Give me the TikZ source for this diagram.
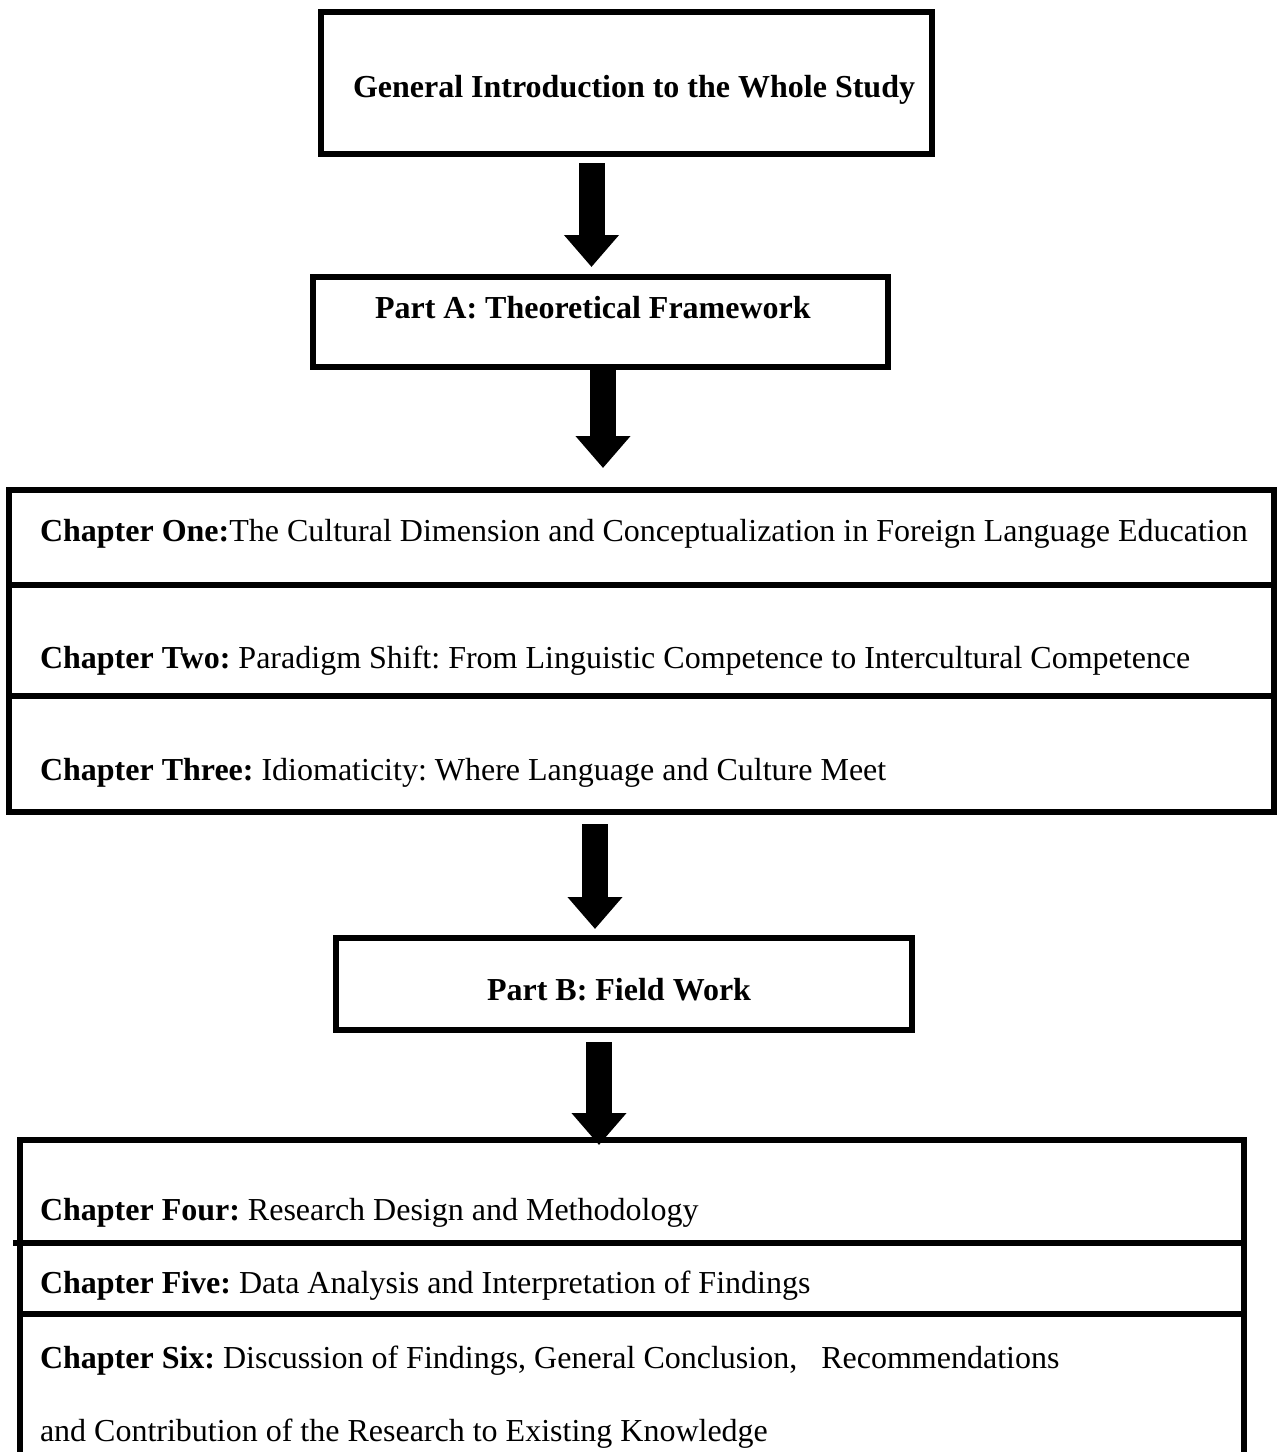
\documentclass[tikz,border=0pt]{standalone}
\usepackage{fontspec}
\setmainfont{Liberation Serif}
\usetikzlibrary{arrows.meta}
\frenchspacing
\begin{document}
\begin{tikzpicture}[x=1pt,y=-1pt,
  frame/.style={draw=black, line width=6pt, inner sep=0pt, outer sep=0pt, line join=miter},
  lbl/.style={anchor=base west, inner sep=0pt, outer sep=0pt, font=\fontsize{32}{38}\selectfont},
  blockarrow/.style={line width=26pt, -{Triangle[width=53pt,length=32pt]}},
  rulel/.style={line width=6pt}]
\useasboundingbox[fill=white] (0,0) rectangle (1277,1452);
% boxes
\node[frame, minimum width=611pt, minimum height=142.5pt] (intro) at (626.5,83) {};
\node[frame, minimum width=575pt, minimum height=90pt] (partA) at (600.5,322) {};
\node[frame, minimum width=1265pt, minimum height=321.5pt] (chA) at (641.5,650.75) {};
\node[frame, minimum width=576pt, minimum height=92pt] (partB) at (624,984) {};
\node[frame, minimum width=1224.5pt, minimum height=340pt] (chB) at (631.75,1310) {};
% dividers
\draw[rulel] (9,585) -- (1274,585);
\draw[rulel] (9,696) -- (1274,696);
\draw[rulel] (13,1243) -- (1244,1243);
\draw[rulel] (19.5,1314) -- (1244,1314);
% texts
\node[lbl] (tintro) at (353,97) {\textbf{General Introduction to the Whole Study}};
\node[lbl] (tpartA) at (375,318) {\textbf{Part A: Theoretical Framework}};
\node[lbl] (tone) at (40,541) {\textbf{Chapter One:}The Cultural Dimension and Conceptualization in Foreign Language Education};
\node[lbl] (ttwo) at (40,668) {\textbf{Chapter Two:} Paradigm Shift: From Linguistic Competence to Intercultural Competence};
\node[lbl] (tthree) at (40,780) {\textbf{Chapter Three:} Idiomaticity: Where Language and Culture Meet};
\node[lbl] (tpartB) at (487,1000) {\textbf{Part B: Field Work}};
\node[lbl] (tfour) at (40,1220) {\textbf{Chapter Four:} Research Design and Methodology};
\node[lbl] (tfive) at (40,1293) {\textbf{Chapter Five:} Data Analysis and Interpretation of Findings};
\node[lbl] (tsix) at (40,1368) {\textbf{Chapter Six:} Discussion of Findings, General Conclusion,\ \ \ Recommendations};
\node[lbl] (tsixb) at (40,1441) {and Contribution of the Research to Existing Knowledge};
% arrows
\coordinate (a1) at (591.5,0);
\coordinate (a2) at (603,0);
\coordinate (a3) at (595,0);
\coordinate (a4) at (599,0);
\draw[blockarrow] ([yshift=-9pt]intro.south -| a1) -- ([yshift=10pt]partA.north -| a1);
\draw[blockarrow] (partA.south -| a2) -- ([yshift=22pt]chA.north -| a2);
\draw[blockarrow] ([yshift=-12.5pt]chA.south -| a3) -- ([yshift=9pt]partB.north -| a3);
\draw[blockarrow] ([yshift=-12pt]partB.south -| a4) -- ([yshift=-5pt]chB.north -| a4);
\end{tikzpicture}
\end{document}
